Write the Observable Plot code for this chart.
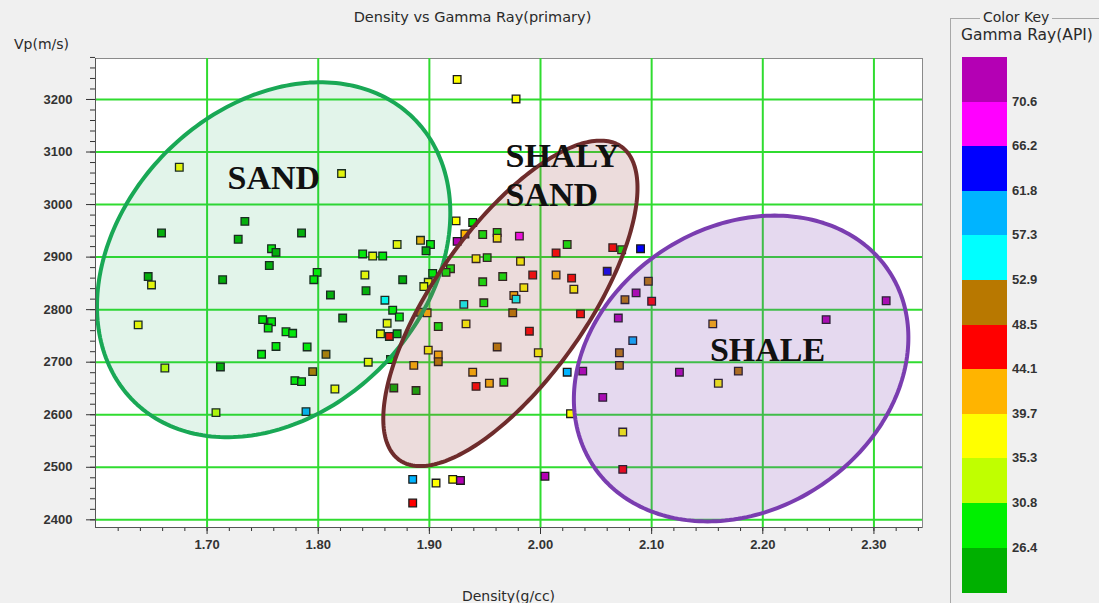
<!DOCTYPE html>
<html><head><meta charset="utf-8">
<script src="https://cdn.jsdelivr.net/npm/d3@7"></script>
<script src="https://cdn.jsdelivr.net/npm/@observablehq/plot@0.6"></script>
<style>
html,body{margin:0;padding:0;}
body{width:1099px;height:603px;overflow:hidden;background:#f0f0f0;position:relative;font-family:"DejaVu Sans","Liberation Sans",Arial,sans-serif;color:#222;}
.abs{position:absolute;white-space:nowrap;}
</style></head><body>
<div id="chart" class="abs" style="left:0;top:0"></div>
<div class="abs" style="left:0;width:945px;top:9px;text-align:center;font-size:14.5px;color:#2a2a2a">Density vs Gamma Ray(primary)</div>
<div class="abs" style="left:14px;top:36px;font-size:14px;color:#2a2a2a">Vp(m/s)</div>
<div class="abs" style="left:95px;width:827px;top:588px;text-align:center;font-size:14px;color:#2a2a2a">Density(g/cc)</div>
<div class="abs" style="left:950px;top:18px;width:149px;height:585px;border-left:1px solid #a8a8a8;border-top:1px solid #a8a8a8"></div>
<div class="abs" style="left:980px;top:9px;font-size:14px;color:#2a2a2a;background:#f0f0f0;padding:0 3px">Color Key</div>
<div class="abs" style="left:961px;top:26px;font-size:15.5px;color:#2a2a2a">Gamma Ray(API)</div>
<div id="key" class="abs" style="left:962px;top:57px"></div>
<script>
// ---- data ----
const densities = [1.675,1.821,1.734,1.659,1.728,1.785,1.758,1.762,1.840,1.849,1.858,1.756,1.647,1.650,1.714,1.799,1.796,1.842,1.843,1.811,
1.638,1.750,1.758,1.755,1.771,1.777,1.822,1.762,1.749,1.790,1.807,1.845,1.662,1.712,1.795,1.779,1.785,1.815,1.708,1.789,
1.925,1.978,1.924,1.939,1.981,1.925,1.932,1.948,1.961,1.961,2.024,1.871,1.892,1.901,1.897,2.014,2.065,2.073,2.090,1.942,
1.952,1.982,1.876,1.919,1.915,1.903,1.899,1.895,1.948,1.966,1.993,2.014,2.028,2.060,1.985,2.030,1.860,1.867,1.873,1.931,
1.949,1.976,1.978,1.975,2.036,2.076,2.086,2.070,1.892,1.898,1.862,1.856,1.864,1.871,2.083,1.908,1.933,1.990,1.961,1.899,
1.908,1.908,1.998,1.865,1.886,1.939,1.942,1.954,1.967,1.868,1.888,2.024,2.038,2.056,2.071,2.071,2.027,2.074,2.074,1.885,
1.906,1.921,1.928,2.004,1.885,2.097,2.100,2.155,2.125,2.178,2.160,2.257,2.311];
const vps = [3071,3059,2968,2946,2934,2946,2916,2909,2906,2902,2902,2884,2863,2847,2857,2871,2857,2866,2836,2828,
2771,2781,2777,2765,2758,2755,2784,2730,2715,2729,2715,2700,2689,2691,2682,2665,2663,2649,2604,2606,
3238,3201,2969,2966,2940,2930,2944,2943,2947,2936,2924,2924,2932,2924,2912,2908,2918,2914,2916,2897,
2899,2892,2857,2878,2871,2869,2852,2844,2853,2863,2866,2866,2860,2873,2842,2839,2818,2799,2786,2810,
2813,2827,2820,2794,2792,2819,2832,2784,2795,2794,2774,2754,2749,2754,2741,2768,2773,2759,2729,2723,
2714,2701,2718,2705,2694,2681,2654,2660,2662,2651,2646,2681,2683,2633,2718,2694,2602,2567,2496,2477,
2470,2477,2475,2483,2432,2854,2816,2773,2681,2683,2660,2781,2817];
const gammas = [37.2,37.8,24.3,24.8,25.1,24.6,28.2,25.4,28.9,36.9,28.4,24.9,25.2,36.4,24.7,29.1,27.8,37.0,25.6,24.5,
36.1,28.0,27.6,29.3,28.7,27.9,25.0,28.5,27.4,29.6,50.1,37.4,34.2,24.2,50.9,28.8,28.1,38.0,34.6,58.8,
38.9,37.1,36.6,28.3,68.5,72.1,41.5,29.0,27.7,37.6,28.6,37.3,40.6,29.4,25.3,46.2,45.4,29.8,63.9,36.8,
28.1,37.9,24.6,28.9,27.5,28.4,36.3,38.2,28.7,29.2,46.8,42.3,45.1,64.7,37.7,36.5,55.2,28.0,29.5,54.6,
27.9,42.8,55.9,49.6,47.0,50.4,71.9,72.6,49.8,41.9,37.4,36.7,45.9,25.5,59.6,28.4,37.1,46.5,50.3,37.9,
41.2,49.5,38.3,29.1,42.6,40.9,46.1,41.7,28.6,24.9,25.2,58.7,72.3,71.4,51.2,50.6,38.6,37.2,46.4,59.1,
36.9,38.1,72.0,71.6,45.7,50.8,46.6,40.4,72.8,51.0,37.5,71.2,72.4];

const thresholds = [26.4,30.8,35.3,39.7,44.1,48.5,52.9,57.3,61.8,66.2,70.6];
const keyColors = ["#00b000","#00f000","#c0ff00","#ffff00","#ffb400","#ff0000","#b87800","#00ffff","#00b4ff","#0000ff","#ff00ff","#b400b4"];
const xTicks = [1.70,1.80,1.90,2.00,2.10,2.20,2.30];
const yTicks = [2400,2500,2600,2700,2800,2900,3000,3100,3200];
const xMinor = d3.range(1.62,2.345,0.02);
const yMinor = d3.range(2400,3281,20);

// zone annotations (ellipses: centre in data units, semi-axes in px, tilt in degrees)
const zoneNames  = ["SAND","SHALY SAND","SHALE"];
const zoneCx     = [1.7599,1.9729,2.1805];
const zoneCy     = [2895,2812,2688];
const zoneA      = [199,192,177];
const zoneB      = [152,76,141.5];
const zoneAngle  = [45.5,54.7,33];
const zoneStroke = ["#19a855","#6e2c2c","#7a3db0"];
const zoneFill   = ["#20a860","#a05050","#7b3fb0"];
const zoneFillOp = [0.13,0.2,0.2];

const labelText = ["SAND","SHALY","SAND","SHALE"];
const labelX    = [1.760,1.9685,1.9685,2.2043];
const labelY    = [3030,3071,2998,2702];
const labelAnchor = ["middle","start","start","middle"];
const labelWidth  = [113,143,113,142];

// ---- layout ----
const W = 945, H = 603, mL = 95, mR = 23, mT = 58, mB = 76;
const xDomain = [1.5996, 2.3437], yDomain = [2385.4, 3278];
const kx = (W - mL - mR) / (xDomain[1] - xDomain[0]);
const ky = (H - mT - mB) / (yDomain[1] - yDomain[0]);

const points = densities.map((d, i) => ({density: d, vp: vps[i], gamma: gammas[i]}));

function ellipse(i) {
  const th = zoneAngle[i] * Math.PI / 180, out = [];
  for (let k = 0; k <= 240; k++) {
    const t = k / 240 * 2 * Math.PI;
    const px = zoneA[i] * Math.cos(t) * Math.cos(th) - zoneB[i] * Math.sin(t) * Math.sin(th);
    const py = zoneA[i] * Math.cos(t) * Math.sin(th) + zoneB[i] * Math.sin(t) * Math.cos(th);
    out.push({x: zoneCx[i] + px / kx, y: zoneCy[i] + py / ky});
  }
  return out;
}
const labels = labelText.map((t, i) => ({t, x: labelX[i], y: labelY[i], a: labelAnchor[i]}));

const marks = [
  Plot.frame({fill: "white", stroke: "#8a8a8a"}),
  Plot.gridX(xTicks, {stroke: "#30dc30", strokeOpacity: 1, strokeWidth: 2}),
  Plot.gridY(yTicks, {stroke: "#30dc30", strokeOpacity: 1, strokeWidth: 2}),
  Plot.dot(points, {x: "density", y: "vp", fill: "gamma", symbol: "square", r: 4.3, stroke: "#1a1a1a", strokeWidth: 1.3})
];
zoneNames.forEach((n, i) => {
  marks.push(Plot.line(ellipse(i), {x: "x", y: "y", curve: "linear", stroke: zoneStroke[i], strokeWidth: 4,
    fill: zoneFill[i], fillOpacity: zoneFillOp[i]}));
});
["middle","start"].forEach(a => {
  marks.push(Plot.text(labels.filter(d => d.a === a), {x: "x", y: "y", text: "t", textAnchor: a, lineAnchor: "bottom",
    fontFamily: "Liberation Serif", fontWeight: "bold", fontSize: 34, fill: "#111", ariaLabel: "zone-label"}));
});
marks.push(
  Plot.axisX(xTicks, {tickSize: 7, tickPadding: 5, tickFormat: d3.format(".2f"), label: null, fontWeight: "bold", fill: "#333"}),
  Plot.axisX(xMinor, {tickSize: 4, tickFormat: () => "", label: null}),
  Plot.axisY(yTicks, {tickSize: 9, tickPadding: 14, tickFormat: d => String(d), label: null, fontWeight: "bold", fill: "#333"}),
  Plot.axisY(yMinor, {tickSize: 5, tickFormat: () => "", label: null}),
  Plot.ruleX([xDomain[0]], {stroke: "#555"}),
  Plot.ruleY([yDomain[0]], {stroke: "#555"})
);

const chart = Plot.plot({
  width: W, height: H,
  marginLeft: mL, marginRight: mR, marginTop: mT, marginBottom: mB,
  x: {domain: xDomain},
  y: {domain: yDomain},
  color: {type: "threshold", domain: thresholds, range: keyColors},
  style: {background: "transparent", fontFamily: "Liberation Sans, Arial, sans-serif", fontSize: "13px", color: "#333"},
  marks
});
document.getElementById("chart").appendChild(chart);

// stretch the zone labels to the reference's wide lettering
const order = ["middle","start"].flatMap(a => labels.map((d, i) => ({d, i})).filter(o => o.d.a === a).map(o => o.i));
chart.querySelectorAll('g[aria-label="zone-label"] text').forEach((el, j) => {
  el.setAttribute("textLength", labelWidth[order[j]]);
  el.setAttribute("lengthAdjust", "spacingAndGlyphs");
});

// colour key
const key = document.getElementById("key");
const segH = 44.6, segW = 45;
keyColors.slice().reverse().forEach((c, i) => {
  const s = document.createElement("div");
  s.style.cssText = `position:absolute;left:0;top:${i * segH}px;width:${segW}px;height:${segH + 0.5}px;background:${c}`;
  key.appendChild(s);
});
thresholds.slice().reverse().forEach((t, i) => {
  const l = document.createElement("div");
  l.textContent = t.toFixed(1);
  l.style.cssText = `position:absolute;left:${segW + 5}px;top:${(i + 1) * segH - 8}px;font-family:'Liberation Sans',Arial,sans-serif;font-size:13px;font-weight:bold;color:#333`;
  key.appendChild(l);
});
</script>
</body></html>
